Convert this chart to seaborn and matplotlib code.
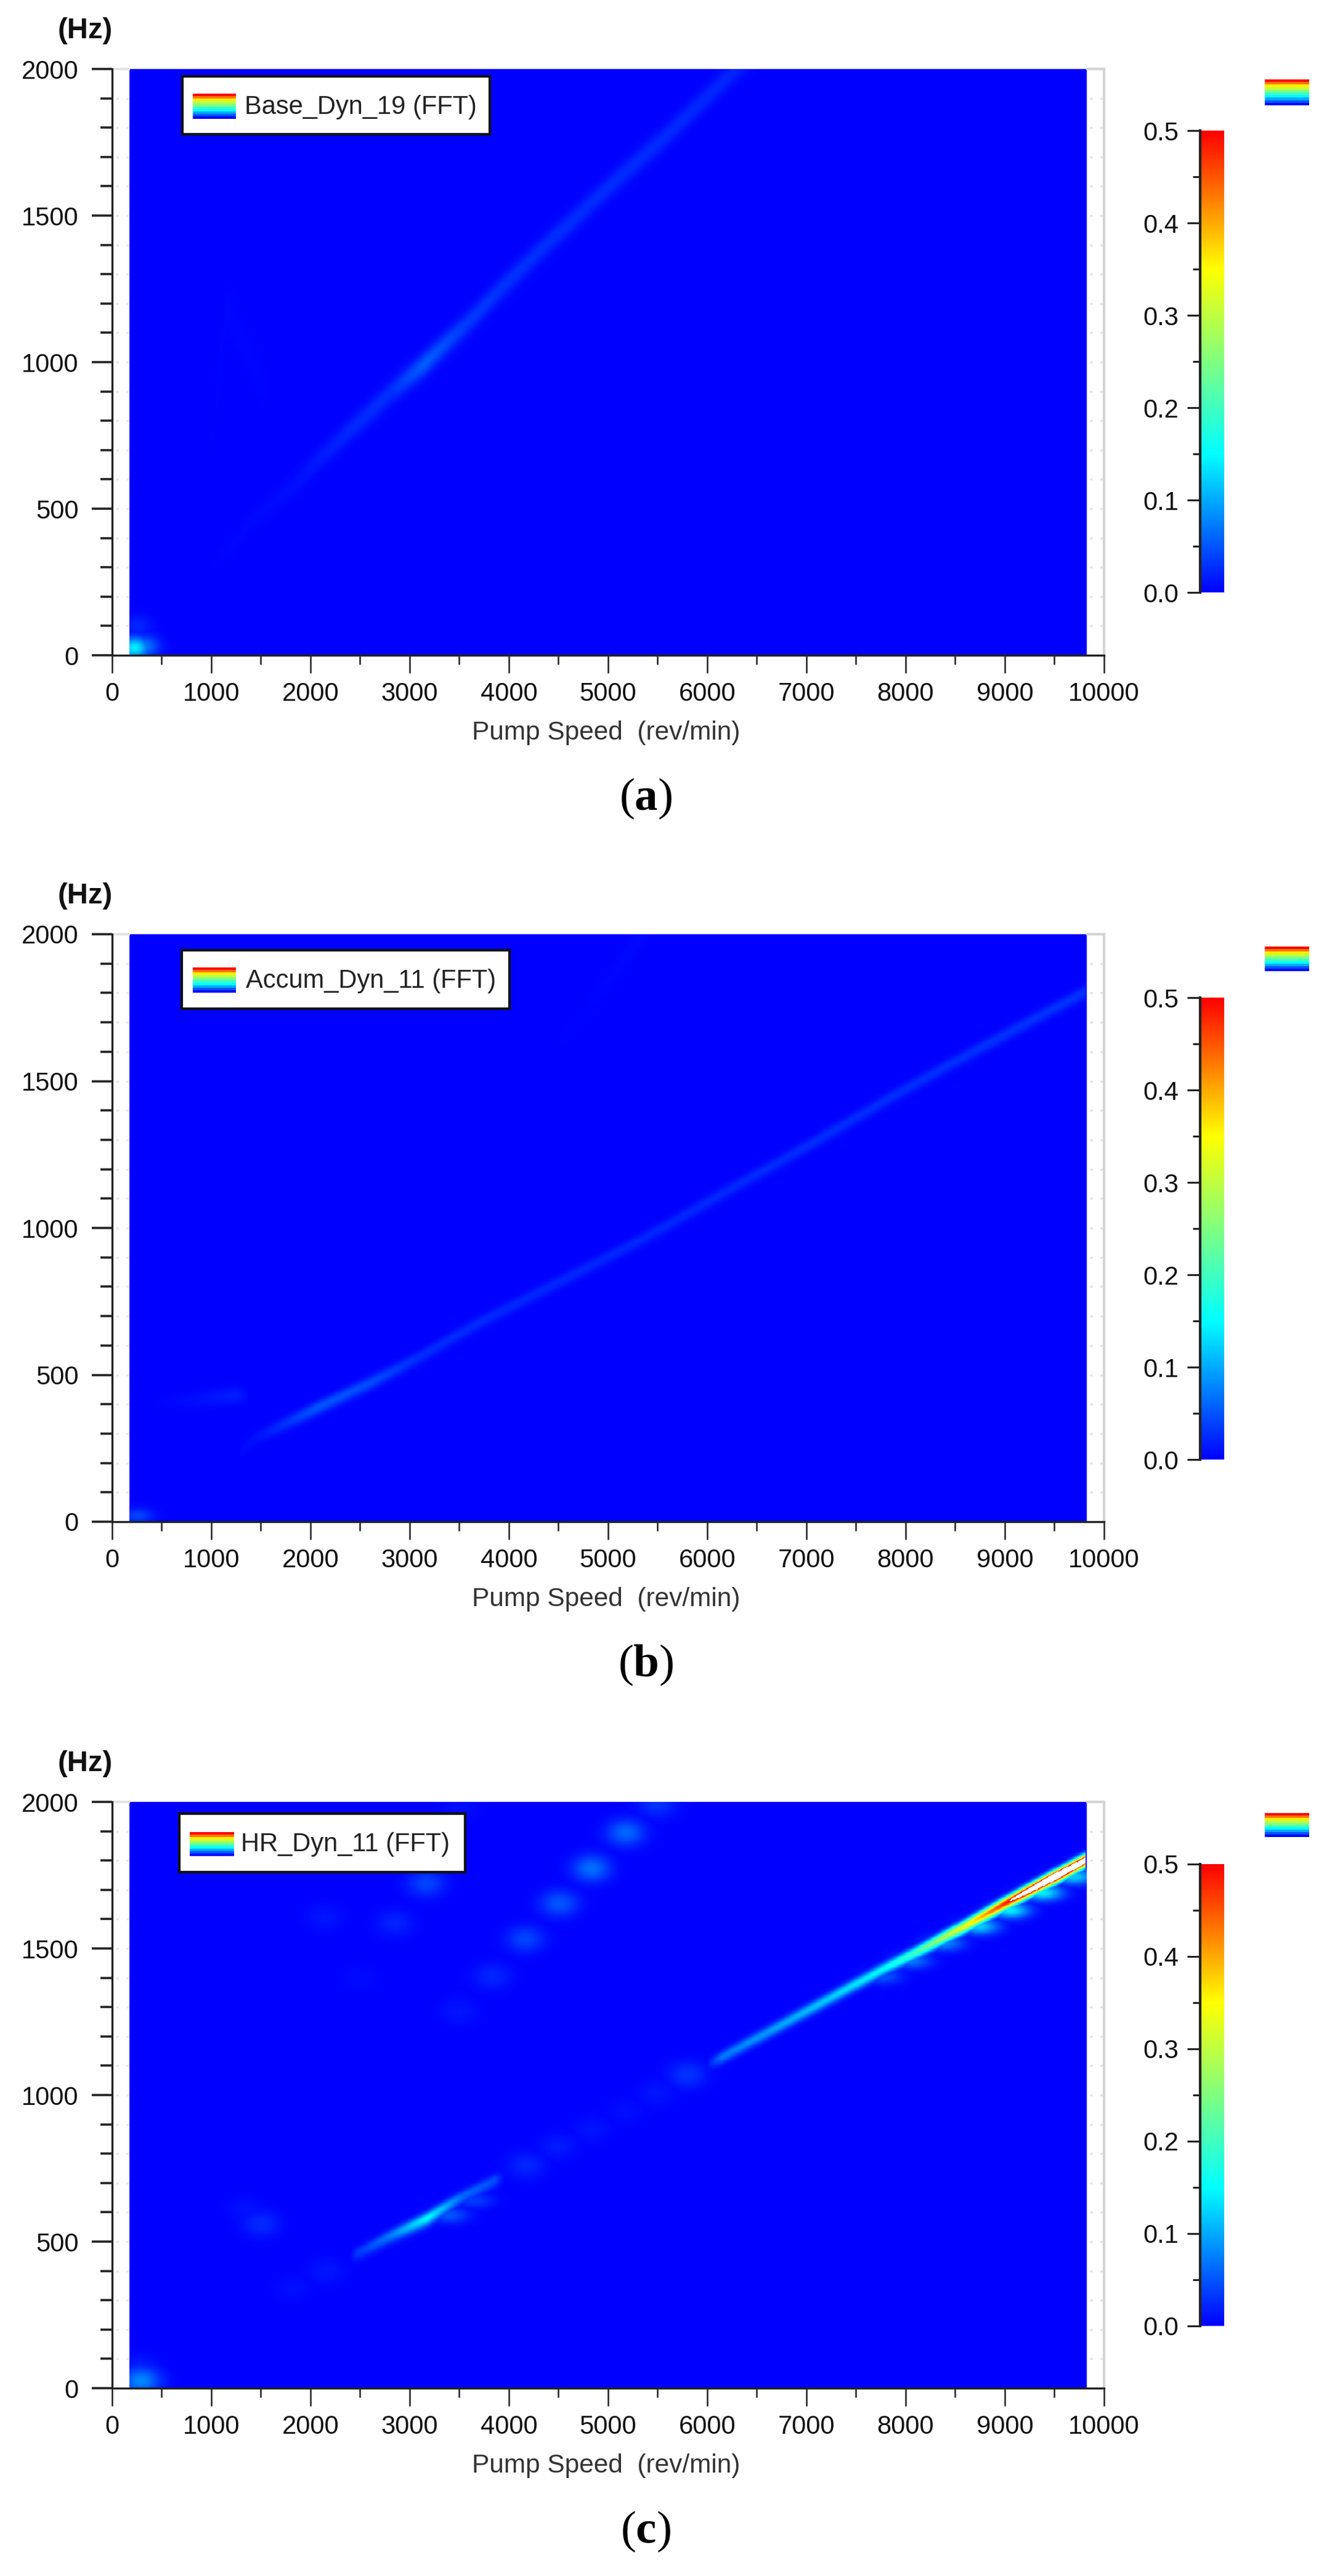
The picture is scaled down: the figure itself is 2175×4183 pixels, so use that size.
import matplotlib
matplotlib.use('Agg')
import matplotlib.pyplot as plt
from matplotlib.colors import LinearSegmentedColormap
import numpy as np
import seaborn as sns

W, H = 2175, 4183

# ridge lines: speed (rev/min), frequency (Hz), amplitude
a_speed = [1000, 1186, 1441, 1820, 2075, 2460, 2807, 3155, 3565, 3913, 4360, 4901, 5504, 6236, 6500]
a_freq = [310, 366, 471, 576, 666, 786, 897, 996, 1128, 1248, 1395, 1566, 1747, 1982, 2060]
a_amp = [0.001, 0.003, 0.005, 0.008, 0.014, 0.024, 0.028, 0.055, 0.034, 0.03, 0.027, 0.026, 0.025, 0.022, 0.018]

a_faint_speed = [1000, 1150, 1500, 1620]
a_faint_freq = [700, 1180, 950, 900]
a_faint_amp = [0.001, 0.004, 0.003, 0.0]

b_speed = [1283, 1456, 2058, 2575, 3092, 3695, 4384, 5331, 6279, 7140, 7829, 8605, 9810]
b_freq = [242, 287, 387, 469, 560, 678, 796, 960, 1142, 1305, 1442, 1587, 1805]
b_amp = [0.003, 0.01, 0.05, 0.045, 0.026, 0.024, 0.022, 0.022, 0.024, 0.026, 0.026, 0.028, 0.03]

b_upper_speed = [4200, 4800, 5300, 5450]
b_upper_freq = [1500, 1750, 1980, 2040]
b_upper_amp = [0.0, 0.002, 0.005, 0.003]

b_side_speed = [300, 800, 1250, 1400]
b_side_freq = [400, 415, 430, 430]
b_side_amp = [0.0, 0.007, 0.018, 0.0]

c_speed_low = [2400, 2466, 2800, 3180, 3534, 3857, 3960]
c_freq_low = [450, 460, 520, 581, 655, 710, 722]
c_amp_low = [0.0, 0.03, 0.07, 0.15, 0.06, 0.045, 0.0]

c_speed_high = [5980, 6150, 7255, 7770, 8105, 8602, 8975, 9509, 9814]
c_freq_high = [1100, 1130, 1334, 1430, 1487, 1578, 1649, 1746, 1802]
c_amp_high = [0.0, 0.07, 0.12, 0.15, 0.2, 0.34, 0.47, 0.7, 0.6]

# isolated spots: speed, frequency, amplitude
a_spot_speed = [230, 330, 260]
a_spot_freq = [25, 30, 100]
a_spot_amp = [0.14, 0.07, 0.022]

b_spot_speed = [260]
b_spot_freq = [20]
b_spot_amp = [0.04]

c_spot_speed = [292, 280, 1503, 1350, 1823, 2161, 4174, 4497, 4838, 5174, 5497, 5800,
                3497, 3832, 4168, 4509, 4832, 5180, 5497, 3168, 2851, 3497, 2503, 2143]
c_spot_freq = [25, 65, 561, 610, 340, 399, 760, 826, 884, 945, 1008, 1070,
               1286, 1405, 1532, 1654, 1773, 1895, 1993, 1722, 1586, 1980, 1397, 1607]
c_spot_amp = [0.08, 0.02, 0.024, 0.01, 0.008, 0.012, 0.022, 0.015, 0.011, 0.008, 0.012, 0.03,
              0.012, 0.022, 0.04, 0.05, 0.065, 0.06, 0.03, 0.04, 0.02, 0.008, 0.006, 0.012]

# lower shoulder hanging under the ridge in panel c
c_tail_speed = [3400, 3650, 7770, 8062, 8391, 8745, 9056, 9385, 9696]
c_tail_freq = [590, 640, 1405, 1458, 1518, 1575, 1630, 1690, 1745]
c_tail_amp = [0.05, 0.035, 0.05, 0.07, 0.08, 0.12, 0.14, 0.14, 0.12]

names = ['Base_Dyn_19 (FFT)', 'Accum_Dyn_11 (FFT)', 'HR_Dyn_11 (FFT)']
letters = ['a', 'b', 'c']
speed_ticks = [0, 1000, 2000, 3000, 4000, 5000, 6000, 7000, 8000, 9000, 10000]
freq_ticks = [0, 500, 1000, 1500, 2000]
scale_ticks = [0.0, 0.1, 0.2, 0.3, 0.4, 0.5]
swatch_levels = [0.5, 0.43, 0.36, 0.3, 0.25, 0.2, 0.15, 0.1, 0.05, 0.0]

# layout in pixels
tops = [112, 1517, 2926]
bottoms = [1064, 2471, 3878]
cbar_y = [(212, 962), (1620, 2370), (3027, 3777)]
corner_y = [(129, 171), (1537, 1577), (2944, 2983)]
legend_box = [(296, 795, 124, 218), (295, 827, 1543, 1638), (291, 755, 2945, 3040)]
legend_swatch = [(313, 383, 152, 193), (313, 383, 1571, 1612), (308, 380, 2975, 3014)]
legend_text_x = [397, 399, 391]
X0, X1 = 182, 1792

NX, NY = 800, 800
speed_grid = (np.arange(NX) + 0.5) * 10000 / NX
freq_grid = (np.arange(NY) + 0.5) * 2000 / NY
SS, FF = np.meshgrid(speed_grid, freq_grid)

sns.set_style('ticks')
plt.rcParams['font.family'] = ['Liberation Sans', 'DejaVu Sans']
plt.rcParams['mathtext.fontset'] = 'custom'
plt.rcParams['mathtext.bf'] = 'Liberation Serif:bold'
plt.rcParams['mathtext.rm'] = 'Liberation Serif'

rainbow = LinearSegmentedColormap.from_list(
    'fft', [(0, '#0000ff'), (0.3, '#00ffff'), (0.7, '#ffff00'), (1, '#ff0000')], N=512)
rainbow.set_over('white')

fig = plt.figure(figsize=(W / 100, H / 100), dpi=100)


def box(x0, x1, y0, y1):
    return [x0 / W, 1 - y1 / H, (x1 - x0) / W, (y1 - y0) / H]


def ridge_field(z, speed, freq, amp, sig_up, sig_down):
    c = np.interp(SS, speed, freq)
    a = np.interp(SS, speed, amp, left=0, right=0)
    d = FF - c
    sig = np.where(d > 0, sig_up, sig_down)
    return np.maximum(z, a * np.exp(-0.5 * (d / sig) ** 2))


def spot_field(z, speed, freq, amp, sig_s, sig_f):
    for s, f, a in zip(speed, freq, amp):
        z = np.maximum(z, a * np.exp(-0.5 * ((SS - s) / sig_s) ** 2 - 0.5 * ((FF - f) / sig_f) ** 2))
    return z


def draw_panel(i, z):
    ax = fig.add_axes(box(X0, X1, tops[i], bottoms[i]))
    cax = fig.add_axes(box(1948, 1987, cbar_y[i][0], cbar_y[i][1]))
    mask = (SS < 180) | (SS > 9820)
    sns.heatmap(z, mask=mask, cmap=rainbow, vmin=0, vmax=0.5, ax=ax, cbar_ax=cax,
                cbar_kws={'ticks': scale_ticks}, xticklabels=False, yticklabels=False)
    ax.set_xlim(0, NX)
    ax.set_ylim(0, NY)

    # axes: scale is in cells because heatmap draws on cell coordinates
    sx, sy = NX / 10000, NY / 2000
    ax.set_xticks([t * sx for t in speed_ticks])
    ax.set_xticklabels([str(t) for t in speed_ticks], fontsize=30, color='#111111')
    ax.set_xticks([(t + 500) * sx for t in speed_ticks[:-1]], minor=True)
    ax.set_yticks([t * sy for t in freq_ticks])
    ax.set_yticklabels([str(t) for t in freq_ticks], fontsize=30, color='#111111', rotation=0)
    ax.set_yticks([t * sy for t in range(0, 2001, 100) if t % 500], minor=True)
    ax.tick_params(axis='x', which='major', length=21, width=1.8, pad=10, color='#222222')
    ax.tick_params(axis='x', which='minor', length=11, width=1.8, color='#222222')
    ax.tick_params(axis='y', which='major', length=24, width=2.6, pad=15, color='#222222')
    ax.tick_params(axis='y', which='minor', length=14, width=2.6, color='#222222')
    for side in ['left', 'bottom']:
        ax.spines[side].set_visible(True)
        ax.spines[side].set_linewidth(2.4)
        ax.spines[side].set_color('#222222')
        ax.spines[side].set_zorder(5)
    ax.spines['right'].set_visible(True)
    ax.spines['right'].set_linewidth(3)
    ax.spines['right'].set_color('#d4d4d4')
    ax.spines['top'].set_visible(False)
    ax.hlines(NY, 9820 * sx, NX, color='#d4d4d4', lw=3, clip_on=False)
    ax.hlines(NY, 0, 180 * sx, color='#e4e4e4', lw=3, clip_on=False)
    grid_y = [t * sy for t in range(100, 2000, 100)]
    ax.hlines(grid_y, 9860 * sx, 9990 * sx, color='#e4e4e4', lw=2.4, linestyles=(0, (1.3, 3.6)))
    ax.hlines(grid_y, 40 * sx, 170 * sx, color='#e8e8e8', lw=2.4, linestyles=(0, (1.3, 3.6)))

    # colour scale
    cbar = ax.collections[0].colorbar
    cbar.outline.set_visible(False)
    cax.yaxis.set_ticks_position('left')
    cax.yaxis.set_label_position('left')
    cax.set_yticks(scale_ticks)
    cax.set_yticklabels(['%.1f' % t for t in scale_ticks], fontsize=30, color='#111111')
    cax.set_yticks([0.05, 0.15, 0.25, 0.35, 0.45], minor=True)
    cax.tick_params(axis='y', which='major', length=15, width=2.2, pad=10, color='#222222')
    cax.tick_params(axis='y', which='minor', length=8.5, width=2.2, color='#222222')
    cax.spines['left'].set_visible(True)
    cax.spines['left'].set_linewidth(3)
    cax.spines['left'].set_color('#222222')

    # legend box
    lx0, lx1, ly0, ly1 = legend_box[i]
    lax = fig.add_axes(box(lx0, lx1, ly0, ly1), zorder=6)
    lax.set_xticks([])
    lax.set_yticks([])
    for sp in lax.spines.values():
        sp.set_linewidth(3)
        sp.set_color('#111111')
    sx0, sx1, sy0, sy1 = legend_swatch[i]
    swatch = np.array(swatch_levels).reshape(-1, 1)
    sax = fig.add_axes(box(sx0, sx1, sy0, sy1), zorder=7)
    sns.heatmap(swatch, cmap=rainbow, vmin=0, vmax=0.5, cbar=False, ax=sax,
                xticklabels=False, yticklabels=False)
    lax.text((legend_text_x[i] - lx0) / (lx1 - lx0), 0.47, names[i], fontsize=30,
             color='#222222', va='center', ha='left', transform=lax.transAxes)

    # loose swatch in the upper right corner
    cx = fig.add_axes(box(2053, 2125, corner_y[i][0], corner_y[i][1]))
    sns.heatmap(swatch, cmap=rainbow, vmin=0, vmax=0.5, cbar=False, ax=cx,
                xticklabels=False, yticklabels=False)

    fig.text(138 / W, 1 - (tops[i] - 62) / H, '(Hz)', fontsize=34, fontweight='bold',
             color='#111111', ha='center', va='center')
    fig.text(984 / W, 1 - (bottoms[i] + 126) / H, 'Pump Speed  (rev/min)', fontsize=30.5,
             color='#333333', ha='center', va='center')
    fig.text(1048 / W, 1 - (bottoms[i] + 233) / H, '($\\mathbf{%s}$)' % letters[i], fontsize=54,
             family='Liberation Serif', color='black', ha='center', va='center')


z_a = np.zeros_like(SS)
z_a = ridge_field(z_a, a_speed, a_freq, a_amp, 28, 30)
z_a = ridge_field(z_a, a_faint_speed, a_faint_freq, a_faint_amp, 70, 70)
z_a = spot_field(z_a, a_spot_speed, a_spot_freq, a_spot_amp, 100, 26)

z_b = np.zeros_like(SS)
z_b = ridge_field(z_b, b_speed, b_freq, b_amp, 15, 18)
z_b = ridge_field(z_b, b_upper_speed, b_upper_freq, b_upper_amp, 40, 40)
z_b = ridge_field(z_b, b_side_speed, b_side_freq, b_side_amp, 20, 20)
z_b = spot_field(z_b, b_spot_speed, b_spot_freq, b_spot_amp, 110, 18)

z_c = np.zeros_like(SS)
z_c = ridge_field(z_c, c_speed_low, c_freq_low, c_amp_low, 14, 18)
z_c = ridge_field(z_c, c_speed_high, c_freq_high, c_amp_high, 14, 16)
z_c = spot_field(z_c, c_spot_speed, c_spot_freq, c_spot_amp, 135, 32)
z_c = spot_field(z_c, c_tail_speed, c_tail_freq, c_tail_amp, 135, 19)

for i, z in enumerate([z_a, z_b, z_c]):
    draw_panel(i, z)

fig.savefig('out.png', dpi=100, facecolor='white')
